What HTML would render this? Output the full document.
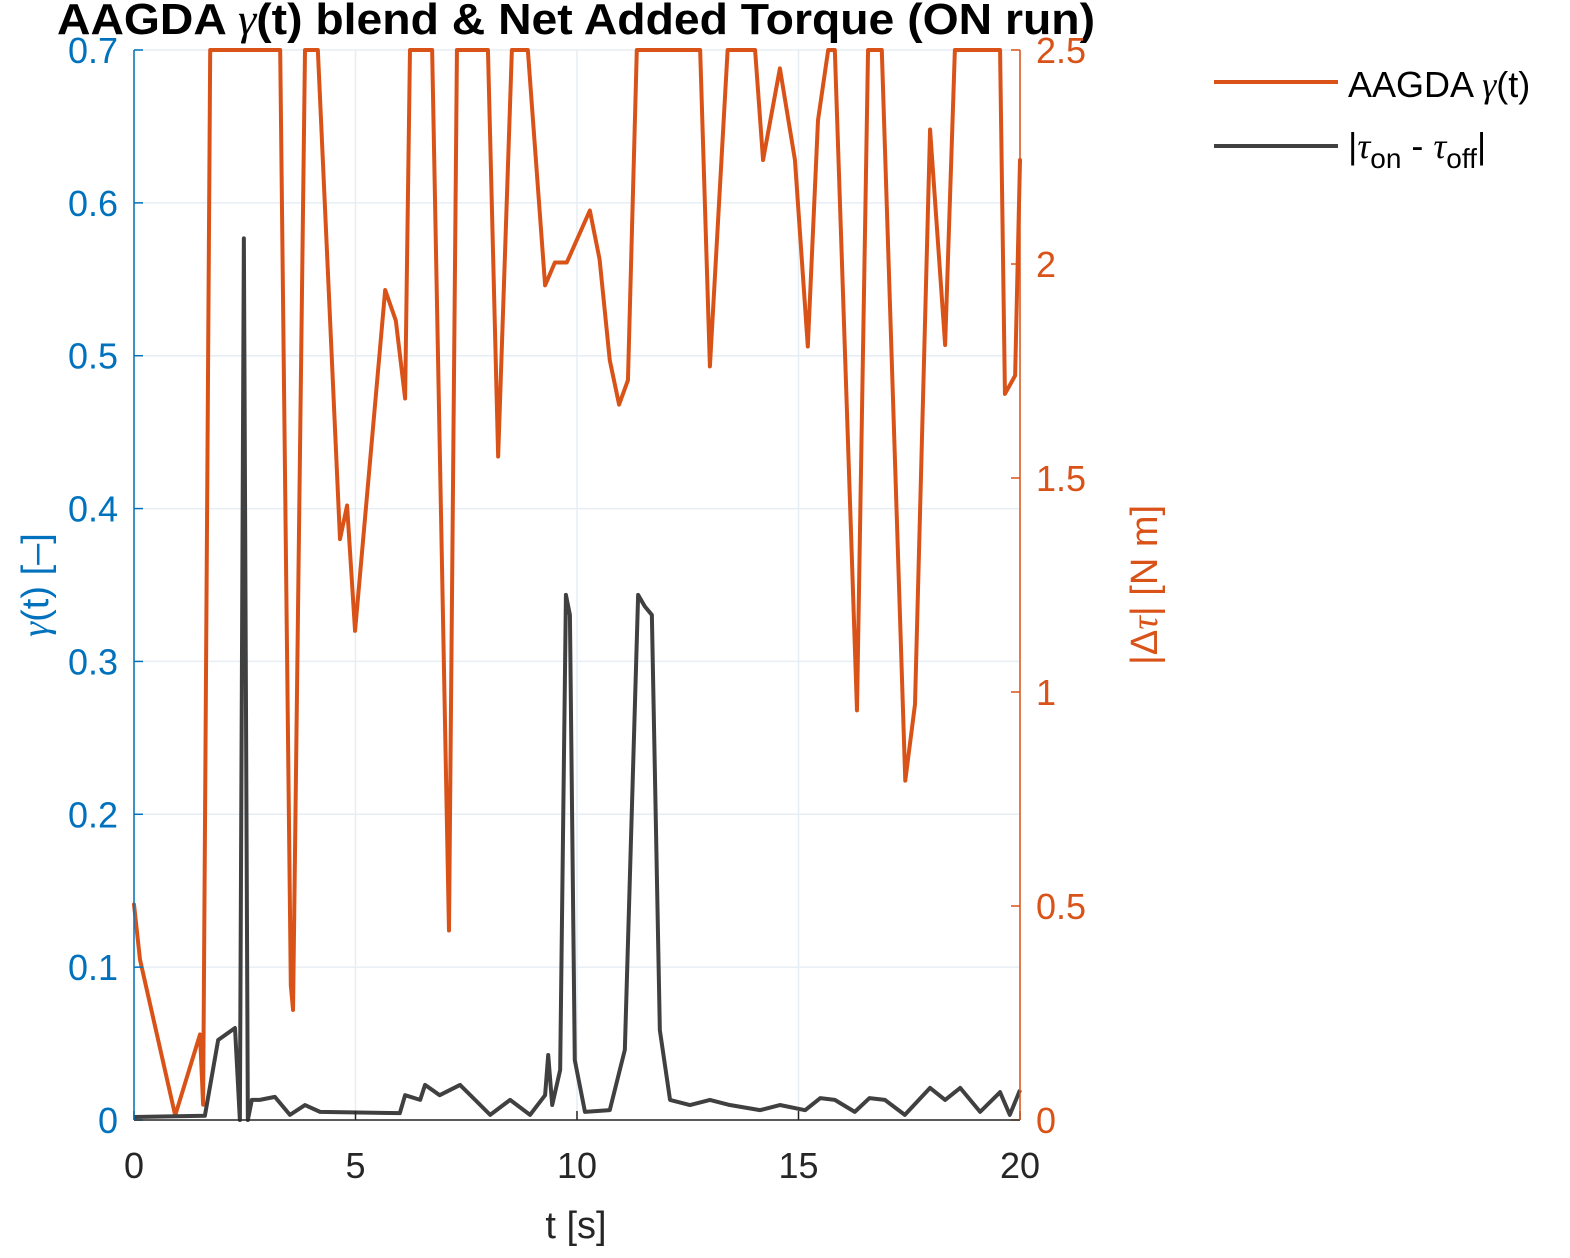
<!DOCTYPE html>
<html><head><meta charset="utf-8"><style>
body{margin:0;background:#fff;}
svg text{font-family:"Liberation Sans",sans-serif;}
</style></head><body>
<svg id="c" width="1570" height="1253" xmlns="http://www.w3.org/2000/svg">
<text x="576" y="34" text-anchor="middle" font-size="44" font-weight="bold" textLength="1038" lengthAdjust="spacingAndGlyphs">AAGDA <tspan font-family="Liberation Serif" font-style="italic" font-weight="normal">γ</tspan>(t) blend &amp; Net Added Torque (ON run)</text>
<g id="grid"></g>
<g id="series"></g>
<g id="axes"></g>
<text x="576" y="1238" text-anchor="middle" font-size="38" fill="#262626">t [s]</text>
<text transform="translate(48,585) rotate(-90)" text-anchor="middle" font-size="38" fill="#0072BD"><tspan font-family="Liberation Serif" font-style="italic">γ</tspan>(t) [–]</text>
<text transform="translate(1157,585) rotate(-90)" text-anchor="middle" font-size="38" fill="#D95319">|Δ<tspan font-family="Liberation Serif" font-style="italic">τ</tspan>| [N m]</text>
<g>
<line x1="1214" y1="82" x2="1338" y2="82" stroke="#D95319" stroke-width="4"/>
<text x="1348" y="97" font-size="36">AAGDA <tspan font-family="Liberation Serif" font-style="italic">γ</tspan>(t)</text>
<line x1="1214" y1="146" x2="1338" y2="146" stroke="#404040" stroke-width="4"/>
<text x="1348" y="158" font-size="36">|<tspan font-family="Liberation Serif" font-style="italic">τ</tspan><tspan font-size="28" dy="10">on</tspan><tspan dy="-10"> - </tspan><tspan font-family="Liberation Serif" font-style="italic">τ</tspan><tspan font-size="28" dy="10">off</tspan><tspan dy="-10">|</tspan></text>
</g>
</svg>
<script>
const gammaT=[0,0.135,0.93,1.49,1.56,1.72,3.3,3.54,3.59,3.86,4.15,4.65,4.81,4.99,5.67,5.91,6.12,6.23,6.73,7.11,7.29,7.99,8.22,8.53,8.89,9.28,9.5,9.77,10.29,10.51,10.74,10.95,11.15,11.35,12.78,13.0,13.4,14.02,14.2,14.58,14.92,15.21,15.44,15.67,15.82,16.32,16.57,16.88,17.41,17.63,17.97,18.31,18.53,19.55,19.66,19.89,20];
const gammaV=[0.141,0.105,0.003,0.056,0.01,0.7,0.7,0.088,0.072,0.7,0.7,0.38,0.402,0.32,0.543,0.523,0.472,0.7,0.7,0.124,0.7,0.7,0.434,0.7,0.7,0.546,0.561,0.561,0.595,0.563,0.497,0.468,0.484,0.7,0.7,0.493,0.7,0.7,0.628,0.688,0.628,0.506,0.654,0.7,0.7,0.268,0.7,0.7,0.222,0.272,0.648,0.507,0.7,0.7,0.475,0.487,0.628];
const torqueT=[0,1.6,1.9,2.28,2.39,2.48,2.57,2.66,2.84,3.18,3.52,3.86,4.2,6.0,6.12,6.46,6.57,6.9,7.36,7.7,8.04,8.49,8.94,9.28,9.35,9.44,9.62,9.75,9.84,9.95,10.18,10.74,11.08,11.38,11.53,11.69,11.87,12.1,12.55,13.0,13.45,14.13,14.58,15.15,15.49,15.82,16.27,16.6,16.95,17.4,17.97,18.31,18.65,19.1,19.55,19.77,20];
const torqueV=[0.007,0.01,0.187,0.215,0,2.06,0,0.047,0.047,0.054,0.012,0.035,0.019,0.016,0.058,0.047,0.082,0.058,0.082,0.047,0.012,0.047,0.012,0.058,0.152,0.035,0.117,1.227,1.18,0.14,0.019,0.023,0.164,1.227,1.2,1.18,0.21,0.047,0.035,0.047,0.035,0.023,0.035,0.023,0.051,0.047,0.019,0.051,0.047,0.012,0.075,0.047,0.075,0.019,0.065,0.012,0.07];
const xTicks=[0,5,10,15,20];
const yLTicks=[0,0.1,0.2,0.3,0.4,0.5,0.6,0.7];
const yRTicks=[0,0.5,1,1.5,2,2.5];
const X0=134,X1=1020,Y0=1120,Y1=50;
const sx=t=>X0+(t/20)*(X1-X0);
const syL=v=>Y0-(v/0.7)*(Y0-Y1);
const syR=v=>Y0-(v/2.5)*(Y0-Y1);
const NS="http://www.w3.org/2000/svg";
function mk(tag,attrs,parent){const e=document.createElementNS(NS,tag);for(const k in attrs)e.setAttribute(k,attrs[k]);parent.appendChild(e);return e;}
const grid=document.getElementById('grid'),axes=document.getElementById('axes'),ser=document.getElementById('series');
xTicks.forEach(t=>{const l=mk('line',{x1:sx(t),x2:sx(t),y1:Y1,y2:Y0,stroke:'#e6eef4','stroke-width':1.5},grid);


const tk=mk('line',{x1:sx(t),x2:sx(t),y1:Y0,y2:Y0-9,stroke:'#262626','stroke-width':1.5},axes);


const tx=mk('text',{x:sx(t),y:1178,'text-anchor':'middle','font-size':36,fill:'#262626'},axes);tx.textContent=t;

});
yLTicks.forEach(v=>{const l=mk('line',{x1:X0,x2:X1,y1:syL(v),y2:syL(v),stroke:'#e6eef4','stroke-width':1.5},grid);


const tk=mk('line',{x1:X0,x2:X0+9,y1:syL(v),y2:syL(v),stroke:'#0072BD','stroke-width':1.5},axes);


const tx=mk('text',{x:118,y:syL(v)+13,'text-anchor':'end','font-size':36,fill:'#0072BD'},axes);tx.textContent=v;

});
yRTicks.forEach(v=>{const tk=mk('line',{x1:X1,x2:X1-9,y1:syR(v),y2:syR(v),stroke:'#D95319','stroke-width':1.5},axes);


const tx=mk('text',{x:1036,y:syR(v)+13,'text-anchor':'start','font-size':36,fill:'#D95319'},axes);tx.textContent=v;

});
const ax1=mk('line',{x1:X0,x2:X1,y1:Y0,y2:Y0,stroke:'#262626','stroke-width':1.5},axes);


const ax2=mk('line',{x1:X0,x2:X0,y1:Y1,y2:Y0,stroke:'#0072BD','stroke-width':1.5},axes);


const ax3=mk('line',{x1:X1,x2:X1,y1:Y1,y2:Y0,stroke:'#D95319','stroke-width':1.5},axes);


const p1=mk('polyline',{points:gammaT.map((t,i)=>sx(t)+','+syL(gammaV[i])).join(' '),fill:'none',stroke:'#D95319','stroke-width':4,'stroke-linejoin':'round','stroke-linecap':'round'},ser);


const p2=mk('polyline',{points:torqueT.map((t,i)=>sx(t)+','+syR(torqueV[i])).join(' '),fill:'none',stroke:'#404040','stroke-width':4,'stroke-linejoin':'round'},ser);


</script>
</body></html>
